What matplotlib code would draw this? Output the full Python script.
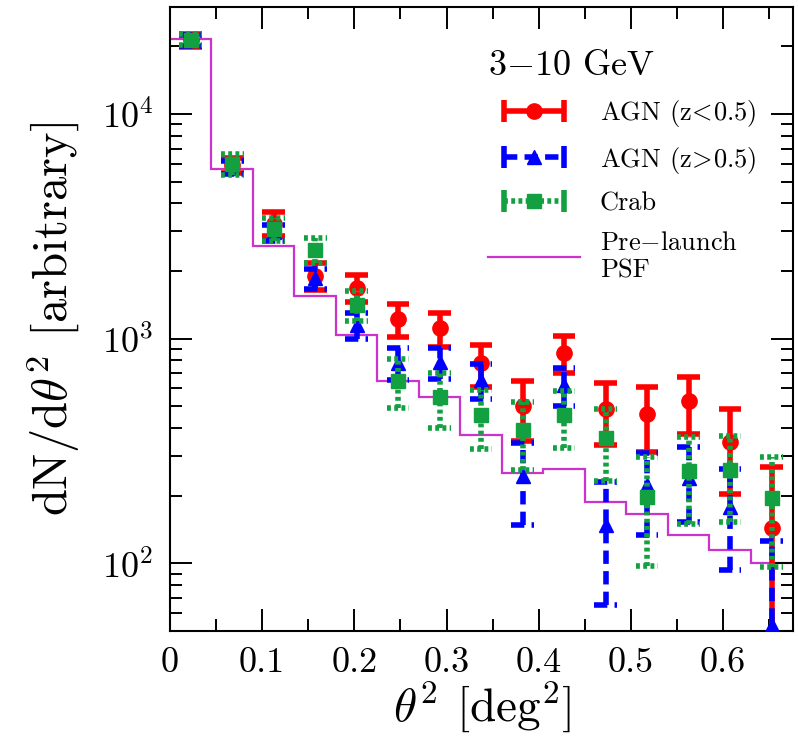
import numpy as np
import matplotlib
matplotlib.use("Agg")  # no display available
import matplotlib.pyplot as plt
from matplotlib.container import ErrorbarContainer
from matplotlib.legend_handler import HandlerErrorbar
from matplotlib.ticker import MultipleLocator

plt.rcParams.update({
    "font.family": "cmr10",
    "mathtext.fontset": "cm",
    "axes.formatter.use_mathtext": True,
    "axes.unicode_minus": False,
})

# theta^2 bins (deg^2), 0.045 wide
BIN_EDGES = [0.0, 0.045, 0.09, 0.135, 0.18, 0.225, 0.27, 0.315, 0.36,
             0.405, 0.45, 0.495, 0.54, 0.585, 0.63, 0.675]
THETA2 = [0.0225, 0.0675, 0.1125, 0.1575, 0.2025, 0.2475, 0.2925, 0.3375,
          0.3825, 0.4275, 0.4725, 0.5175, 0.5625, 0.6075, 0.6525]

# pre-launch PSF, one value per bin
PSF = [21500, 5700, 2570, 1550, 1040, 650, 552, 374, 253, 262, 187, 165,
       133, 115, 100]

AGN_LOWZ = [21300, 5900, 3250, 1900, 1680, 1220, 1110, 775, 500, 865, 485,
            460, 525, 345, 143]
AGN_LOWZ_ERR = [1400, 450, 400, 260, 230, 200, 190, 165, 150, 165, 150,
                147, 150, 142, 125]

AGN_HIGHZ = [21300, 5800, 2970, 1860, 1150, 780, 785, 655, 245, 620, 148,
             222, 240, 178, 53]
AGN_HIGHZ_ERR = [1200, 390, 240, 190, 150, 125, 125, 115, 97, 120, 83, 89,
                 88, 85, 73]

CRAB = [21400, 6000, 3080, 2480, 1410, 650, 550, 455, 390, 455, 360, 197,
        258, 260, 196]
CRAB_ERR = [1200, 640, 375, 320, 215, 160, 150, 133, 130, 130, 128, 100,
            108, 108, 100]

XTICKS = [0, 0.1, 0.2, 0.3, 0.4, 0.5, 0.6]
XTICK_LABELS = ["0", "0.1", "0.2", "0.3", "0.4", "0.5", "0.6"]

LABELS = [r"AGN (z$\!<\!$0.5)", r"AGN (z$\!>\!$0.5)", "Crab",
          "Pre$-$launch\nPSF"]

RED = "#ff0000"
BLUE = "#0000ff"
GREEN = "#12a040"
MAGENTA = "#cc33cc"
LW = 4.0
CAP_HALF = 0.0123          # half width of the error-bar caps, deg^2
DASHED = (0, (2.4, 1.3))
DOTTED = (0, (0.7, 0.6))

fig, ax = plt.subplots(figsize=(7.98, 7.44), dpi=100)
fig.subplots_adjust(left=0.213, right=0.994, bottom=0.152, top=0.991)

psf = ax.stairs(PSF, BIN_EDGES, baseline=None, color=MAGENTA, lw=1.6,
                zorder=1.5)

series = [
    (AGN_LOWZ, AGN_LOWZ_ERR, RED, "o", 11, "solid", 2),
    (AGN_HIGHZ, AGN_HIGHZ_ERR, BLUE, "^", 10, DASHED, 3),
    (CRAB, CRAB_ERR, GREEN, "s", 9.5, DOTTED, 4),
]

x = np.array(THETA2)
proxies = []
for vals, errs, color, marker, ms, ls, z in series:
    vals = np.array(vals, dtype=float)
    errs = np.array(errs, dtype=float)
    eb = ax.errorbar(x, vals, yerr=errs, fmt=marker, ms=ms, color=color,
                     ecolor=color, elinewidth=LW, capsize=0, zorder=z)
    eb[2][0].set_linestyle(ls)
    # caps drawn as segments so they pick up the dash pattern too
    for yc in (vals + errs, vals - errs):
        ax.hlines(yc, x - CAP_HALF, x + CAP_HALF, colors=color, lw=LW,
                  linestyles=[ls], zorder=z)
    # horizontal-bar version of the symbol for the key
    pr = ax.errorbar([np.nan], [np.nan], xerr=[1.0], fmt=marker, ms=ms,
                     color=color, ecolor=color, elinewidth=LW, capsize=8,
                     capthick=LW)
    pr[2][0].set_linestyle(ls)
    proxies.append(pr)

ax.set_yscale("log")
ax.set_xlim(0, 0.676)
ax.set_ylim(50, 3e4)
ax.set_xticks(XTICKS, XTICK_LABELS)
ax.xaxis.set_minor_locator(MultipleLocator(0.05))
ax.tick_params(which="both", direction="in", top=True, right=True,
               width=1.4, labelsize=26, pad=12)
ax.tick_params(which="major", length=16)
ax.tick_params(which="minor", length=8.5)
for sp in ax.spines.values():
    sp.set_linewidth(1.5)

ax.set_xlabel(r"$\theta^2$ [deg$^2$]", fontsize=34, labelpad=0)
ax.set_ylabel(r"dN/d$\theta^2$ [arbitrary]", fontsize=35, labelpad=14)

ax.legend(proxies + [psf], LABELS, loc="upper left",
          bbox_to_anchor=(0.51, 0.93), frameon=False, fontsize=19,
          title=r"3$-$10 GeV", title_fontsize=26, alignment="left",
          handlelength=3.5, handletextpad=0.75, labelspacing=0.6,
          borderpad=0, borderaxespad=0,
          handler_map={ErrorbarContainer: HandlerErrorbar(xerr_size=1.15)})

fig.savefig("out.png", dpi=100)
